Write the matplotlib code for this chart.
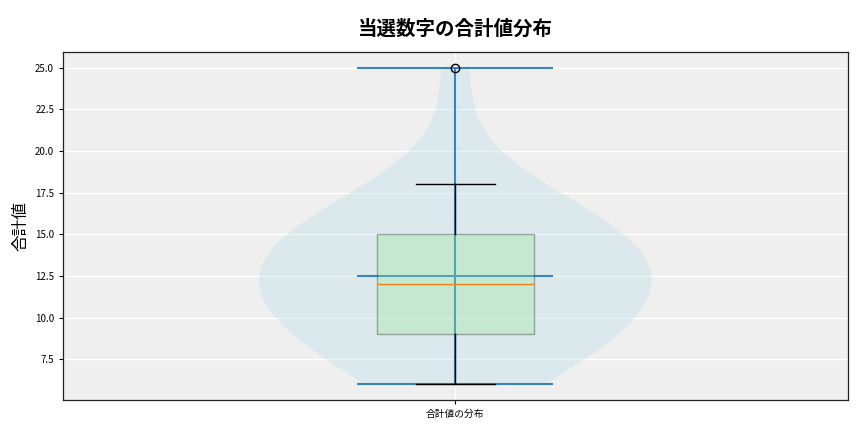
import numpy as np
import matplotlib
matplotlib.use("Agg")
import matplotlib.pyplot as plt

plt.rcParams['font.family'] = ['Noto Sans CJK JP', 'DejaVu Sans']

### sums of winning numbers (estimated from the box / violin stats:
### min 6, Q1 9, median 12, Q3 15, whisker 18, outlier 25, mean 12.5)
sums = [6, 7, 8, 8, 9, 9, 9, 9, 11, 11, 11, 12, 12, 12, 13,
        14, 14, 14, 15, 15, 15, 15, 16, 17, 18, 25]
xlabels = ['合計値の分布']

fig, ax = plt.subplots(figsize=(8.64, 4.32), dpi=100)
fig.subplots_adjust(left=0.073, right=0.981, top=0.880, bottom=0.074)
ax.set_facecolor('#efefef')
ax.set_axisbelow(True)
ax.grid(True, color='white', linewidth=1)
for sp in ax.spines.values():
    sp.set_color('#222222')
    sp.set_linewidth(0.9)

## violin first (smoother kde than scott's default)
vp = ax.violinplot([sums], positions=[1], widths=0.5, showmeans=True,
                   bw_method=0.75)
for b in vp['bodies']:
    b.set_facecolor('lightblue')
    b.set_edgecolor('none')
    b.set_alpha(0.3)
for k in ['cmeans', 'cmins', 'cmaxes', 'cbars']:
    vp[k].set_color('#3a84bd')
    vp[k].set_linewidth(1.5)

## then boxplot on top
bp = ax.boxplot([sums], positions=[1], widths=0.2, patch_artist=True)
for b in bp['boxes']:
    b.set_facecolor('lightgreen')
    b.set_alpha(0.3)

ax.set_xlim(0.5, 1.5)
ax.set_xticks([1])
ax.set_xticklabels(xlabels)
ax.tick_params(labelsize=7, length=3)
ax.set_ylabel('合計値', fontsize=12)
ax.set_title('当選数字の合計値分布', fontsize=14, fontweight='bold', pad=12)

plt.savefig('out.png')
